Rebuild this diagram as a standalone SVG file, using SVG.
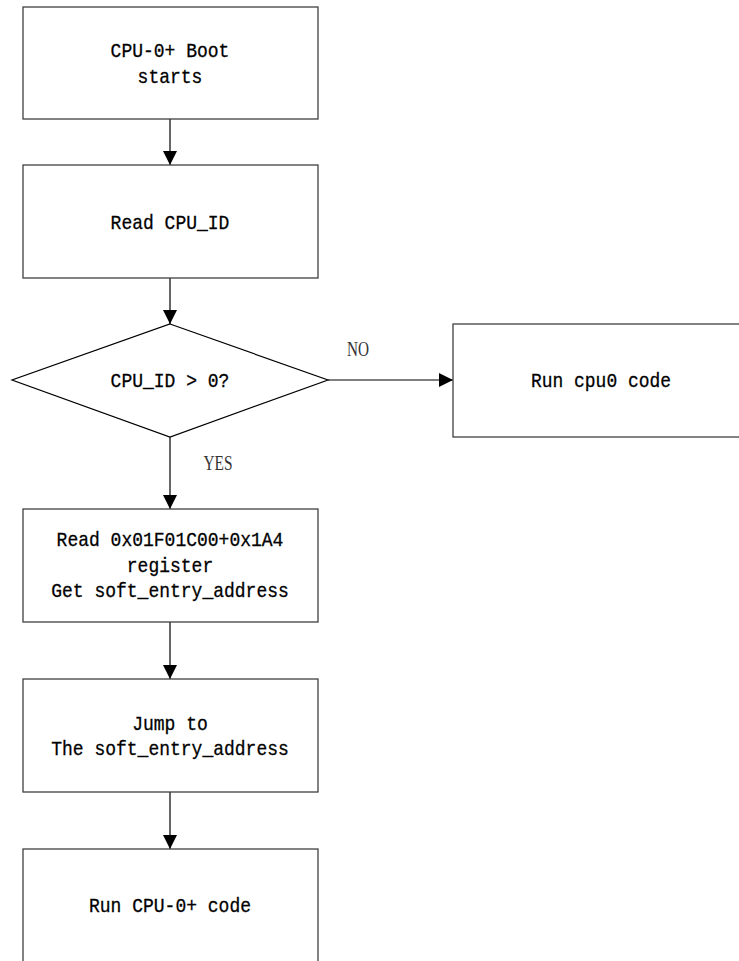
<svg xmlns="http://www.w3.org/2000/svg" width="739" height="961" viewBox="0 0 739 961">
<style>
.box{fill:#fff;stroke:#404040;stroke-width:1.3}
.t{font-family:"Liberation Mono","Noto Sans CJK SC",monospace;font-size:21px;fill:#000;stroke:#000;stroke-width:0.3;text-anchor:middle}
.lbl{font-family:"Liberation Serif",serif;font-size:20px;fill:#333;text-anchor:middle}
.c{stroke:#000;stroke-width:1.2;fill:none;marker-end:url(#ah)}
</style>
<defs>
<marker id="ah" markerUnits="userSpaceOnUse" markerWidth="15" markerHeight="15" refX="14" refY="7" orient="auto">
<path d="M0,0 L14,7 L0,14 z" fill="#000"/>
</marker>
</defs>
<rect width="739" height="961" fill="#fff"/>
<g id="connectors">
<line class="c" x1="170" y1="119" x2="170" y2="165"/>
<line class="c" x1="170" y1="278" x2="170" y2="324"/>
<line class="c" x1="170" y1="437" x2="170" y2="509"/>
<line class="c" x1="328" y1="380" x2="453" y2="380"/>
<line class="c" x1="170" y1="622" x2="170" y2="679"/>
<line class="c" x1="170" y1="792" x2="170" y2="849"/>
<text class="lbl" x="358" y="356" textLength="22" lengthAdjust="spacingAndGlyphs">NO</text>
<text class="lbl" x="218" y="470" textLength="29" lengthAdjust="spacingAndGlyphs">YES</text>
</g>
<g id="boot">
<rect class="box" x="23" y="7" width="295" height="112"/>
<text class="t" x="170" y="57" textLength="118.8" lengthAdjust="spacingAndGlyphs">CPU-0+ Boot</text>
<text class="t" x="170" y="83" textLength="64.8" lengthAdjust="spacingAndGlyphs">starts</text>
</g>
<g id="readid">
<rect class="box" x="23" y="165" width="295" height="113"/>
<text class="t" x="170" y="229" textLength="118.8" lengthAdjust="spacingAndGlyphs">Read CPU_ID</text>
</g>
<g id="decision">
<polygon points="170,324 328,380 170,437 12,380" fill="#fff" stroke="#000" stroke-width="1.2"/>
<text class="t" x="170" y="387" textLength="118.8" lengthAdjust="spacingAndGlyphs">CPU_ID &gt; 0?</text>
</g>
<g id="cpu0">
<rect class="box" x="453" y="324" width="296" height="113"/>
<text class="t" x="601" y="387" textLength="140" lengthAdjust="spacingAndGlyphs">Run cpu0 code</text>
</g>
<g id="readreg">
<rect class="box" x="23" y="509" width="295" height="113"/>
<text class="t" x="170" y="546" textLength="226.8" lengthAdjust="spacingAndGlyphs">Read 0x01F01C00+0x1A4</text>
<text class="t" x="170" y="572" textLength="86.4" lengthAdjust="spacingAndGlyphs">register</text>
<text class="t" x="170" y="597" textLength="237.6" lengthAdjust="spacingAndGlyphs">Get soft_entry_address</text>
</g>
<g id="jump">
<rect class="box" x="23" y="679" width="295" height="113"/>
<text class="t" x="170" y="730" textLength="75.6" lengthAdjust="spacingAndGlyphs">Jump to</text>
<text class="t" x="170" y="755" textLength="237.6" lengthAdjust="spacingAndGlyphs">The soft_entry_address</text>
</g>
<g id="runcpu">
<rect class="box" x="23" y="849" width="295" height="120"/>
<text class="t" x="170" y="912" textLength="162" lengthAdjust="spacingAndGlyphs">Run CPU-0+ code</text>
</g>
</svg>
